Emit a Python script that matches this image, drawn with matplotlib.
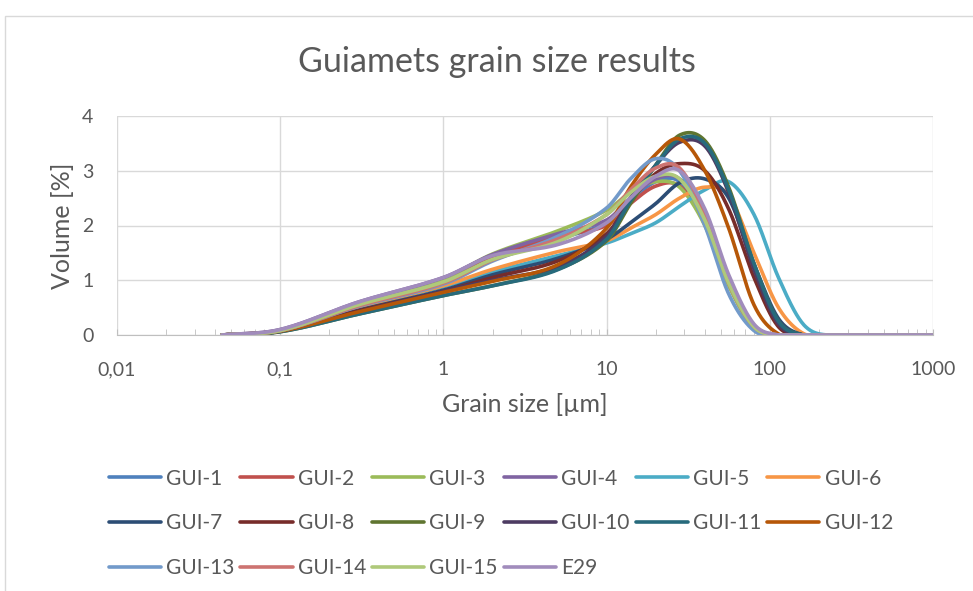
import numpy as np
import matplotlib
matplotlib.use("Agg")
import matplotlib.pyplot as plt
from matplotlib.patches import Rectangle
from matplotlib.ticker import FixedLocator, NullFormatter

# particle size classes (µm) and volume fractions (%) per sample
size_um = [0.044, 0.1, 0.3, 1, 2, 5, 10, 14, 20, 28, 40, 56, 80, 113, 160, 226, 1000]

gui1 = [0, 0.08, 0.55, 0.97, 1.38, 1.75, 2.05, 2.45, 2.80, 2.80, 2.10, 0.95, 0.15, 0, 0, 0, 0]
gui2 = [0, 0.09, 0.57, 1.00, 1.42, 1.80, 2.00, 2.40, 2.72, 2.72, 2.05, 0.95, 0.15, 0, 0, 0, 0]
gui3 = [0, 0.09, 0.58, 1.03, 1.48, 1.90, 2.28, 2.60, 2.80, 2.70, 2.00, 0.90, 0.12, 0, 0, 0, 0]
gui4 = [0, 0.10, 0.60, 1.05, 1.47, 1.85, 2.10, 2.50, 2.85, 2.85, 2.15, 1.00, 0.17, 0, 0, 0, 0]
gui5 = [0, 0.07, 0.50, 0.88, 1.15, 1.45, 1.68, 1.85, 2.05, 2.35, 2.65, 2.80, 2.20, 1.05, 0.20, 0, 0]
gui6 = [0, 0.07, 0.50, 0.90, 1.20, 1.52, 1.72, 1.95, 2.20, 2.50, 2.70, 2.55, 1.50, 0.50, 0.03, 0, 0]
gui7 = [0, 0.07, 0.45, 0.82, 1.10, 1.40, 1.75, 2.05, 2.40, 2.78, 2.85, 2.50, 1.30, 0.30, 0, 0, 0]
gui8 = [0, 0.07, 0.44, 0.80, 1.05, 1.35, 1.85, 2.45, 2.95, 3.13, 3.00, 2.30, 1.05, 0.15, 0, 0, 0]
gui9 = [0, 0.06, 0.38, 0.72, 0.90, 1.20, 1.72, 2.40, 3.10, 3.65, 3.55, 2.70, 1.30, 0.25, 0, 0, 0]
gui10 = [0, 0.07, 0.42, 0.80, 1.00, 1.25, 1.80, 2.50, 3.10, 3.52, 3.45, 2.60, 1.20, 0.20, 0, 0, 0]
gui11 = [0, 0.06, 0.38, 0.72, 0.90, 1.19, 1.75, 2.45, 3.10, 3.58, 3.50, 2.65, 1.30, 0.25, 0, 0, 0]
gui12 = [0, 0.07, 0.42, 0.78, 0.98, 1.28, 1.95, 2.70, 3.30, 3.58, 3.00, 1.95, 0.55, 0.02, 0, 0, 0]
gui13 = [0, 0.08, 0.52, 0.93, 1.35, 1.80, 2.32, 2.85, 3.22, 3.00, 2.00, 0.75, 0.08, 0, 0, 0, 0]
gui14 = [0, 0.08, 0.53, 0.95, 1.37, 1.75, 2.20, 2.65, 3.05, 3.05, 2.20, 0.95, 0.15, 0, 0, 0, 0]
gui15 = [0, 0.08, 0.55, 0.97, 1.38, 1.70, 2.20, 2.60, 2.90, 2.85, 2.10, 0.95, 0.15, 0, 0, 0, 0]
e29 = [0, 0.10, 0.60, 1.05, 1.45, 1.65, 2.05, 2.50, 2.90, 3.00, 2.30, 1.10, 0.20, 0, 0, 0, 0]

labels = ["GUI-1", "GUI-2", "GUI-3", "GUI-4", "GUI-5", "GUI-6",
          "GUI-7", "GUI-8", "GUI-9", "GUI-10", "GUI-11", "GUI-12",
          "GUI-13", "GUI-14", "GUI-15", "E29"]
series = [gui1, gui2, gui3, gui4, gui5, gui6, gui7, gui8,
          gui9, gui10, gui11, gui12, gui13, gui14, gui15, e29]
colors = ["#4F81BD", "#C0504D", "#9BBB59", "#8064A2", "#4BACC6", "#F79646",
          "#2C4D75", "#772C2A", "#5F7530", "#4D3B62", "#276A7C", "#B65708",
          "#729ACA", "#CD7371", "#AFC97A", "#A18CBC"]

xticks = [0.01, 0.1, 1, 10, 100, 1000]
xtick_labels = ["0,01", "0,1", "1", "10", "100", "1000"]
yticks = [0, 1, 2, 3, 4]

TXT = "#595959"
GRID = "#D9D9D9"
FONT = "Lato"


def smooth(x, y, n=30):
    # cubic hermite through the points in log-x, like a smoothed line
    lx = np.log10(np.asarray(x, float))
    y = np.asarray(y, float)
    m = np.zeros_like(y)
    m[1:-1] = (y[2:] - y[:-2]) / (lx[2:] - lx[:-2])
    m[0] = (y[1] - y[0]) / (lx[1] - lx[0])
    m[-1] = (y[-1] - y[-2]) / (lx[-1] - lx[-2])
    xs, ys = [], []
    for i in range(len(lx) - 1):
        h = lx[i + 1] - lx[i]
        t = np.linspace(0, 1, n, endpoint=False)
        h00 = 2 * t**3 - 3 * t**2 + 1
        h10 = t**3 - 2 * t**2 + t
        h01 = -2 * t**3 + 3 * t**2
        h11 = t**3 - t**2
        xs.append(lx[i] + t * h)
        ys.append(h00 * y[i] + h10 * h * m[i] + h01 * y[i + 1] + h11 * h * m[i + 1])
    xs.append([lx[-1]])
    ys.append([y[-1]])
    return 10 ** np.concatenate(xs), np.clip(np.concatenate(ys), 0, None)


fig = plt.figure(figsize=(9.73, 5.91), dpi=100)
fig.patches.append(Rectangle((5 / 973, -0.1), 1.2, 1.1 - 16 / 591, transform=fig.transFigure,
                             fill=False, edgecolor=GRID, linewidth=1))

ax = fig.add_axes([117 / 973, 1 - 335 / 591, (933 - 117) / 973, (335 - 116) / 591])
ax.set_xscale("log")
ax.set_xlim(0.01, 1000)
ax.set_ylim(0, 4)

handles = []
for vals, lab, col in zip(series, labels, colors):
    sx, sy = smooth(size_um, vals)
    h, = ax.plot(sx, sy, color=col, lw=2.6, label=lab, solid_capstyle="round")
    handles.append(h)

ax.xaxis.set_major_locator(FixedLocator(xticks))
ax.set_xticklabels(xtick_labels)
ax.xaxis.set_minor_locator(FixedLocator([m * 10.0**d for d in range(-2, 3) for m in range(2, 10)]))
ax.xaxis.set_minor_formatter(NullFormatter())
ax.set_yticks(yticks)
ax.grid(True, which="major", color=GRID, lw=1)
ax.set_axisbelow(True)
for s in ["top", "right", "left"]:
    ax.spines[s].set_visible(False)
ax.spines["bottom"].set_color("#BFBFBF")
ax.tick_params(axis="x", which="minor", direction="in", length=4, color="#BFBFBF")
ax.tick_params(axis="x", which="major", direction="in", length=4, color="#BFBFBF",
               labelsize=14, labelcolor=TXT, pad=19)
ax.tick_params(axis="y", length=0, labelsize=14, labelcolor=TXT, pad=17)
for lbl in ax.get_xticklabels() + ax.get_yticklabels():
    lbl.set_fontfamily(FONT)

ax.set_xlabel("Grain size [µm]", fontsize=18, color=TXT, family=FONT, va="center")
ax.xaxis.set_label_coords(0.5, (335 - 405) / 219)
ax.set_ylabel("Volume [%]", fontsize=18, color=TXT, family=FONT, va="center")
ax.yaxis.set_label_coords((62 - 117) / 816, 0.5)
fig.text(497 / 973, 1 - 62 / 591, "Guiamets grain size results", ha="center", va="center",
         fontsize=24.5, color=TXT, family=FONT)

# legend is filled column by column, so reorder to read row by row
order = [0, 6, 12, 1, 7, 13, 2, 8, 14, 3, 9, 15, 4, 10, 5, 11]
leg = fig.legend([handles[i] for i in order], [labels[i] for i in order],
                 ncol=6, loc="upper left", bbox_to_anchor=(90 / 973, 1 - 450 / 591),
                 frameon=False, handlelength=2.5, handletextpad=0.25, columnspacing=0.29,
                 labelspacing=1.18, prop={"family": FONT, "size": 15})
for t in leg.get_texts():
    t.set_color(TXT)

fig.savefig("out.png", dpi=100)
